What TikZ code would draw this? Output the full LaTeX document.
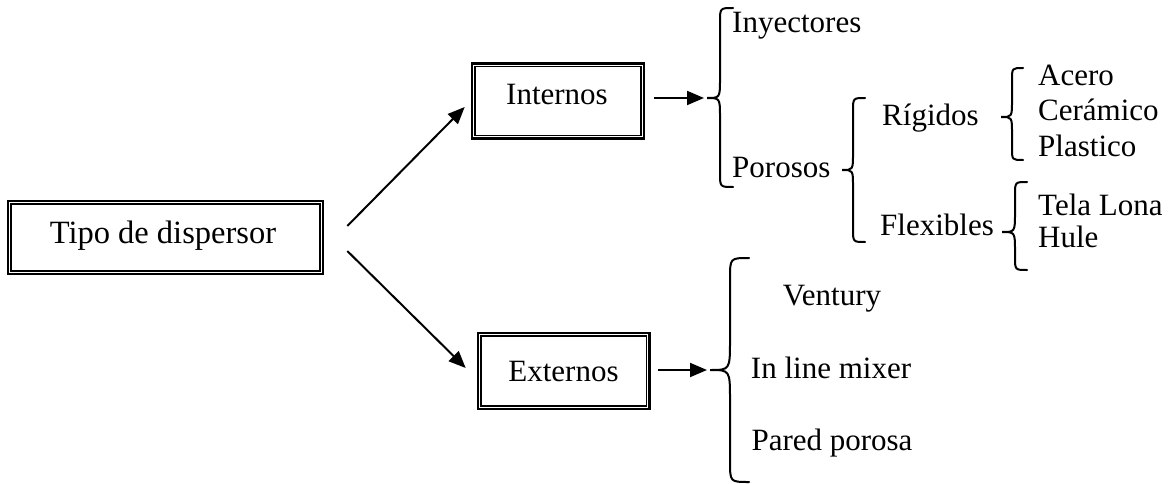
\documentclass[tikz,border=0pt]{standalone}
\usepackage{fontspec}
\setmainfont{Liberation Serif}
\usetikzlibrary{arrows.meta}

% curly brace: #1 tip x, #2 spine x, #3 end x, #4 top y, #5 tip y, #6 bottom y
\newcommand\curlybrace[6]{%
  \draw[bracestyle] (#3,#4) .. controls (#2,#4) .. (#2,{#4+1.1*(#3-#2)})
    -- (#2,{#5-1.5*(#2-#1)}) .. controls (#2,#5) .. (#1,#5)
    .. controls (#2,#5) .. (#2,{#5+1.5*(#2-#1)})
    -- (#2,{#6-1.1*(#3-#2)}) .. controls (#2,#6) .. (#3,#6);}

% thin inner line of a double frame
\newcommand\innerframe[1]{%
  \draw[line width=1.6pt] ([xshift=4.2pt,yshift=-4.2pt]#1.north west)
    rectangle ([xshift=-4.2pt,yshift=4.2pt]#1.south east);}

\tikzset{
  txt/.style={font=\fontsize{31}{36}\selectfont, inner sep=0pt},
  dframe/.style={draw, line width=2.6pt, inner sep=0pt},
  arrowline/.style={line width=2pt, -{Triangle[length=17pt,width=14pt]}},
  bracestyle/.style={line width=2pt, line cap=round},
}

\begin{document}
\begin{tikzpicture}[x=1pt,y=-1pt]
\useasboundingbox (0,0) rectangle (1172,484);

% framed boxes
\node[dframe, minimum width=315pt, minimum height=73pt] (tipo) at (165.5,237.5) {};
\innerframe{tipo}
\node[txt, anchor=base, font=\fontsize{32.5}{38}\selectfont] (tipoT) at (163,243) {Tipo de dispersor};

\node[dframe, minimum width=172pt, minimum height=75pt] (int) at (558,101) {};
\innerframe{int}
\node[txt, anchor=base] (intT) at (557,105) {Internos};

\node[dframe, minimum width=171.5pt, minimum height=76pt] (ext) at (563.75,371) {};
\innerframe{ext}
\node[txt, anchor=base] (extT) at (563.5,381) {Externos};

% brace tips
\coordinate (b1) at (707,98);
\coordinate (b5) at (710,370);

% arrows
\draw[arrowline] ([xshift=23pt,yshift=11.5pt]tipo.east) -- ([xshift=-6pt,yshift=-6pt]int.west);
\draw[arrowline] ([xshift=23pt,yshift=-13.5pt]tipo.east) -- ([xshift=-11pt,yshift=3pt]ext.west);
\draw[arrowline] ([xshift=9pt,yshift=3pt]int.east) -- ([xshift=-3pt]b1);
\draw[arrowline] ([xshift=7.5pt,yshift=1pt]ext.east) -- ([xshift=-3pt]b5);

% braces
\curlybrace{707}{720}{733}{8}{98}{187}
\curlybrace{842}{853}{865}{98}{170}{242}
\curlybrace{1001}{1012}{1023}{68}{117}{160}
\curlybrace{1002}{1015}{1027}{182}{232}{270}
\curlybrace{710}{730}{749}{258}{370}{482}

% labels
\node[txt, anchor=base west] (iny) at (732,33) {Inyectores};
\node[txt, anchor=base west] (por) at (732,177) {Porosos};
\node[txt, anchor=base west] (rig) at (882,125) {Rígidos};
\node[txt, anchor=base west] (flex) at (880,235) {Flexibles};
\node[txt, anchor=base west] (ace) at (1038,86) {Acero};
\node[txt, anchor=base west] (cer) at (1038,121) {Cerámico};
\node[txt, anchor=base west] (pla) at (1038,156) {Plastico};
\node[txt, anchor=base west] (tela) at (1038,215) {Tela Lona};
\node[txt, anchor=base west] (hule) at (1038,247) {Hule};
\node[txt, anchor=base] (ven) at (832,305) {Ventury};
\node[txt, anchor=base] (mix) at (831,378) {In line mixer};
\node[txt, anchor=base] (par) at (832,450) {Pared porosa};
\end{tikzpicture}
\end{document}
